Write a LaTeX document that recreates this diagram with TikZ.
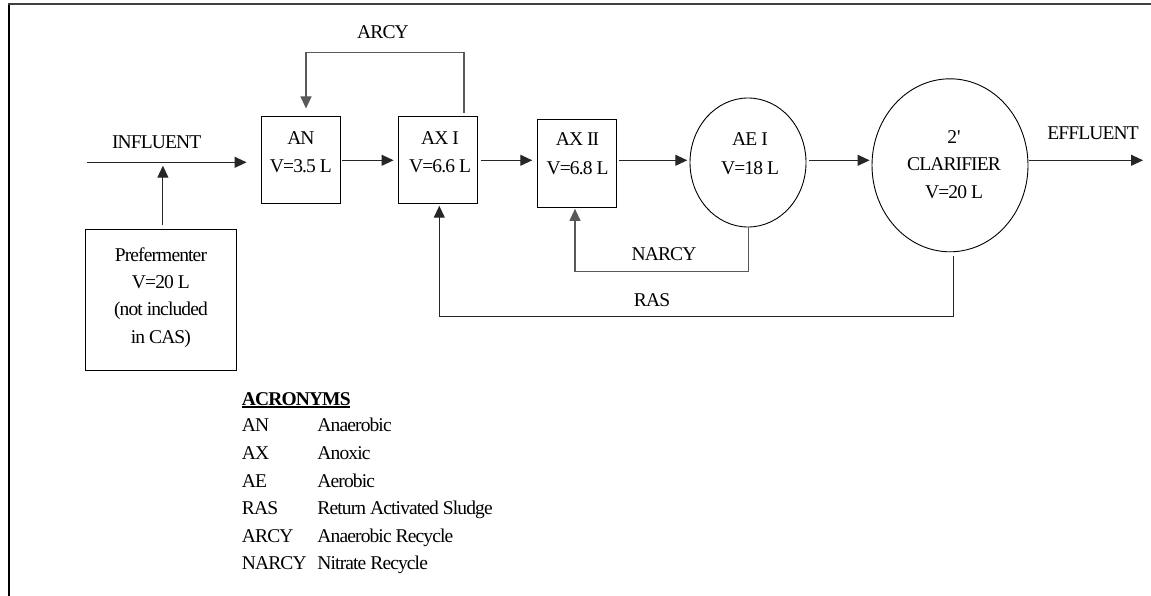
\documentclass[tikz,border=0pt]{standalone}
\usepackage{fontspec}
\setmainfont{Liberation Serif}[LetterSpace=-4.5]
\usetikzlibrary{arrows.meta,shapes.geometric}
\newcommand{\mltext}[1]{\begin{tabular}[t]{@{}c@{}}#1\end{tabular}}
\newcommand{\myul}[1]{{\setbox0\hbox{\textbf{#1}}\rlap{\rule[-2.6pt]{\wd0}{2.2pt}}\box0}}
\newcommand{\straightq}{{\addfontfeatures{Ligatures=TeXOff}'}}
\begin{document}
\begin{tikzpicture}[x=1pt,y=-1pt,
  font=\fontsize{19.5}{28.6}\selectfont,
  box/.style={draw=black, line width=1pt, rectangle, minimum width=79.7pt, minimum height=87.3pt, inner sep=0pt},
  tank/.style={draw=black, line width=0.9pt, ellipse, inner sep=0pt},
  txt/.style={inner sep=0pt, anchor=base},
  flow/.style={draw=black!85, line width=1.1pt, -{Triangle[length=12pt,width=11pt]}},
  recy/.style={flow, draw=black!65}]
\useasboundingbox (0,0) rectangle (1151,596);
% frame
\draw[line width=2pt] (9.3,597) -- (9.3,4.2);
\draw[line width=1.7pt, draw=black!75] (8.3,4.2) -- (1152,4.2);

% units
\node[box, minimum width=151.7pt, minimum height=140pt] (pref) at (160.9,300) {};
\node[box] (an) at (300.9,160.3) {};
\node[box] (ax1) at (437.9,160.3) {};
\node[box, minimum height=88.3pt] (ax2) at (576.9,163.2) {};
\node[tank, minimum width=116pt, minimum height=129pt] (ae1) at (748,162.5) {};
\node[tank, minimum width=156pt, minimum height=173pt] (clar) at (950,165.3) {};

% texts in units
\node[txt, font=\fontsize{19.5}{27.2}\selectfont] (preft) at (160.9,261.4) {\mltext{Prefermenter\\V=20 L\\(not included\\in CAS)}};
\node[txt] (ant) at (300.9,144.4) {\mltext{AN\\V=3.5 L}};
\node[txt] (ax1t) at (440,144.4) {\mltext{AX I\\V=6.6 L}};
\node[txt, font=\fontsize{19.5}{29}\selectfont] (ax2t) at (577.5,145.4) {\mltext{AX II\\V=6.8 L}};
\node[txt, font=\fontsize{19.5}{29}\selectfont] (ae1t) at (750,145.4) {\mltext{AE I\\V=18 L}};
\node[txt, font=\fontsize{19.5}{27.5}\selectfont] (clart) at (954,143.1) {\mltext{2\straightq\\CLARIFIER\\V=20 L}};

% labels
\node[txt] (inflab) at (156.7,148.3) {INFLUENT};
\node[txt] (efflab) at (1093,139.4) {EFFLUENT};
\node[txt] (arcylab) at (383,38.6) {ARCY};
\node[txt] (narcylab) at (664,260.4) {NARCY};
\node[txt] (raslab) at (652,306.7) {RAS};

% free ends
\coordinate (infl) at (86.5,162.3);
\coordinate (effend) at (1143,160.3);

% main flow
\draw[flow, shorten >=14pt] (infl) -- (infl -| an.west);
\draw[flow, shorten <=4.3pt, shorten >=3.4pt] ([xshift=2pt]pref.north) -- ([xshift=2pt]pref.north |- infl);
\draw[flow, shorten <=1pt, shorten >=4pt] (an.east) -- (ax1.west);
\draw[flow, shorten <=2.3pt, shorten >=4.3pt] (ax1.east) -- (ax1.east -| ax2.west);
\draw[flow, shorten <=1.3pt, shorten >=2.3pt] (ax2.east |- an.east) -- (ae1.west |- an.east);
\draw[flow, shorten <=3pt, shorten >=2pt] (ae1.east |- an.east) -- (clar.west |- an.east);
\draw[flow, shorten <=0.5pt] (clar.east |- an.east) -- (effend);

% recycles
\draw[recy, shorten <=3.4pt, shorten >=7.7pt] ([xshift=26.1pt]ax1.north) -- ++(0,-63.7) -| ([xshift=5.1pt]an.north);
\draw[recy, shorten >=1pt] ([xshift=0.3pt]ae1.south) -- ++(0,44) -| ([xshift=-1.9pt]ax2.south);
\draw[flow, shorten <=3.3pt, shorten >=1.3pt] ([xshift=3.3pt]clar.south) -- ++(0,64.3) -| ([xshift=1.4pt]ax1.south);

% acronyms
\node[inner sep=0pt, anchor=base west, font=\fontsize{19.5}{27.6}\selectfont] (acr) at (241.7,405.6) {%
\begin{tabular}[t]{@{}p{75.6pt}@{}l@{}}
\multicolumn{2}{@{}l@{}}{\myul{ACRONYMS}}\\[-1.3pt]
AN & Anaerobic\\
AX & Anoxic\\
AE & Aerobic\\
RAS & Return Activated Sludge\\
ARCY & Anaerobic Recycle\\
NARCY & Nitrate Recycle
\end{tabular}};
\end{tikzpicture}
\end{document}
